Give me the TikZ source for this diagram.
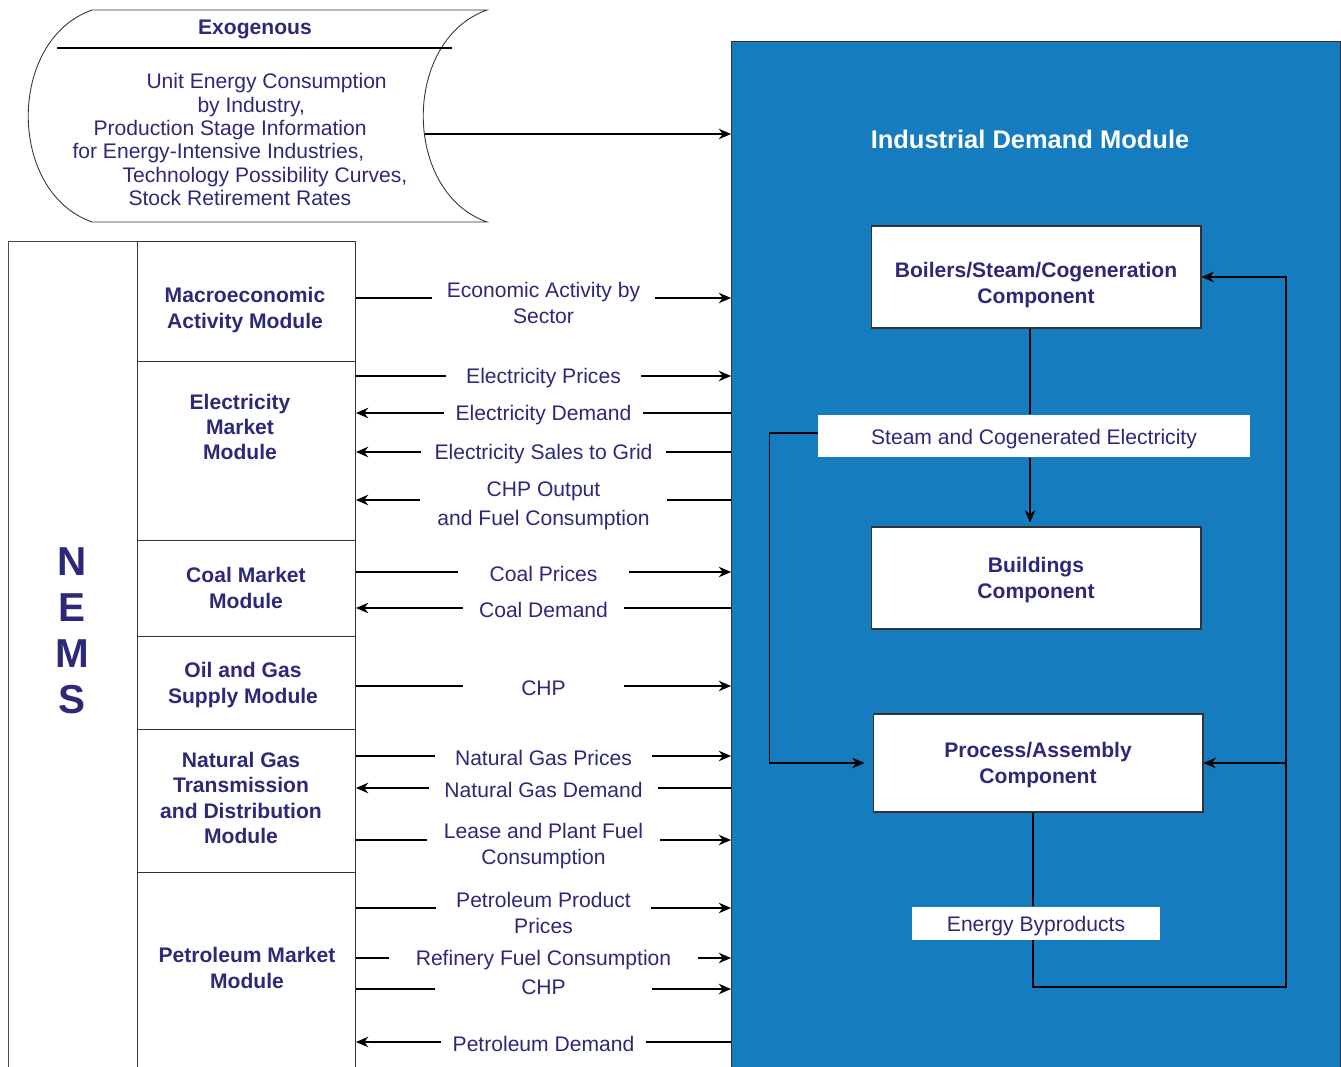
\documentclass[tikz,border=0pt]{standalone}
\usepackage{fontspec}
\setmainfont{Liberation Sans}
\usetikzlibrary{arrows.meta}
\definecolor{navy}{RGB}{44,42,120}
\definecolor{idmblue}{RGB}{22,124,192}

\begin{document}
\begin{tikzpicture}[x=0.02cm, y=-0.02cm, >={Stealth[length=7pt,width=6pt]}, line width=0.6pt,
  txt/.style={text=navy, font=\fontsize{12}{14.4}\selectfont, align=center, inner sep=0pt},
  mod/.style={txt, font=\bfseries\fontsize{12}{14.4}\selectfont},
  cell/.style={draw=black!80, anchor=north west, minimum width=4.36cm, inner sep=0pt},
  comp/.style={mod, draw=black!80, fill=white, minimum width=6.6cm, minimum height=2.04cm},
  lab/.style={txt, fill=white, yshift=-0.04cm},
  tag/.style={txt, fill=white}]

\useasboundingbox (0,0) rectangle (1341,1067);

% exogenous inputs
\draw[black!80, line width=0.5pt] (92,10) -- (487,10) .. controls (402,40) and (402,192) .. (487,222)
  -- (92,222) .. controls (7,192) and (7,40) .. cycle;
\draw (57,48) -- (452,48);
\node[mod] (exo-title) at (255,29) {Exogenous};
\node[txt, align=left, anchor=north west, font=\fontsize{12}{13.3}\selectfont] (exo-body) at (72,73)
  {\hspace*{1.48cm}Unit Energy Consumption\\
   \hspace*{2.50cm}by Industry,\\
   \hspace*{0.42cm}Production Stage Information\\
   for Energy-Intensive Industries,\\
   \hspace*{1.00cm}Technology Possibility Curves,\\
   \hspace*{1.12cm}Stock Retirement Rates};
\coordinate (exo-out) at (425,134);

% industrial demand module
\node[draw=black!80, fill=idmblue, anchor=north west, minimum width=12.18cm,
  minimum height=21.78cm, inner sep=0pt] (idm) at (731,41) {};
\node[text=white, font=\bfseries\fontsize{14.5}{17}\selectfont] (idm-title) at (1030,139)
  {Industrial Demand Module};

\node[comp] (boil) at (1036,277) {\rule{0pt}{18pt}Boilers/Steam/Cogeneration\\Component};
\node[tag, minimum width=8.64cm, minimum height=0.84cm] (steam) at (1034,436)
  {\rule{0pt}{12pt}Steam and Cogenerated Electricity};
\node[comp] (bldg) at (1036,578) {\rule{0pt}{11pt}Buildings\\Component};
\node[comp, minimum height=1.96cm] (proc) at (1038,763) {\rule{0pt}{11pt}Process/Assembly\\Component};
\node[tag, minimum width=4.96cm, minimum height=0.66cm] (byp) at (1036,923)
  {\rule{0pt}{12pt}Energy Byproducts};
\coordinate (spine) at (1030,0);
\coordinate (byline) at (1033,0);
\coordinate (loopR) at (1286,987);

\draw (spine |- boil.south) -- (spine |- steam.north);
\draw[->] (spine |- steam.south) -- ([yshift=0.08cm]spine |- bldg.north);
\draw[->] (steam.west |- 0,433) -- ++(-48,0) |- ([xshift=-0.16cm]proc.west);
\draw (byline |- proc.south) -- (byline |- byp.north);
\draw[->] (byline |- byp.south) |- (loopR) |- (boil.east);
\draw[->] (loopR |- proc.east) -- (proc.east);

% NEMS modules
\node[cell, draw=black!70, minimum width=2.58cm, minimum height=17.78cm] (nems) at (8,241) {};
\node[text=navy, font=\bfseries\fontsize{23}{26.2}\selectfont, align=center, inner sep=0pt]
  (nems-t) at (72,631) {N\\E\\M\\S};

\node[cell, minimum height=2.4cm]  (macro) at (137,241) {};
\node[cell, minimum height=3.58cm] (elec)  at (137,361) {};
\node[cell, minimum height=1.92cm] (coal)  at (137,540) {};
\node[cell, minimum height=1.86cm] (oil)   at (137,636) {};
\node[cell, minimum height=2.86cm] (ng)    at (137,729) {};
\node[cell, minimum height=5.16cm] (pet)   at (137,872) {};

\node[mod] (macro-t) at (245,310) {Macroeconomic\\Activity Module};
\node[mod] (elec-t)  at (240,427) {Electricity\\Market\\Module};
\node[mod] (coal-t)  at (246,588) {Coal Market\\Module};
\node[mod] (oil-t)   at (243,685) {Oil and Gas\\Supply Module};
\node[mod] (ng-t)    at (241,798) {Natural Gas\\Transmission\\and Distribution\\Module};
\node[mod] (pet-t)   at (247,968) {Petroleum Market\\Module};

% flows between NEMS and the module
\draw[->] (exo-out) -- (idm.west |- exo-out);

\draw[->] (macro.east |- 0,298) -- node[lab, minimum width=4.46cm, yshift=-0.06cm]{Economic Activity by\\Sector} (idm.west |- 0,298);
\draw[->] (elec.east |- 0,376) -- node[lab, minimum width=3.92cm]{Electricity Prices} (idm.west |- 0,376);
\draw[->] (idm.west |- 0,413) -- node[lab, minimum width=4.0cm]{Electricity Demand} (elec.east |- 0,413);
\draw[->] (idm.west |- 0,452) -- node[lab, minimum width=4.92cm]{Electricity Sales to Grid} (elec.east |- 0,452);
\draw[->] (idm.west |- 0,500) -- node[lab, minimum width=4.94cm, yshift=-0.08cm]{CHP Output\\[2pt]and Fuel Consumption} (elec.east |- 0,500);

\draw[->] (coal.east |- 0,572) -- node[lab, minimum width=3.42cm]{Coal Prices} (idm.west |- 0,572);
\draw[->] (idm.west |- 0,608) -- node[lab, minimum width=3.22cm]{Coal Demand} (coal.east |- 0,608);

\draw[->] (oil.east |- 0,686) -- node[lab, minimum width=3.24cm]{CHP} (idm.west |- 0,686);

\draw[->] (ng.east |- 0,756) -- node[lab, minimum width=4.36cm]{Natural Gas Prices} (idm.west |- 0,756);
\draw[->] (idm.west |- 0,788) -- node[lab, minimum width=4.58cm]{Natural Gas Demand} (ng.east |- 0,788);
\draw[->] (ng.east |- 0,840) -- node[lab, minimum width=4.66cm, yshift=-0.08cm]{Lease and Plant Fuel\\Consumption} (idm.west |- 0,840);

\draw[->] (pet.east |- 0,908) -- node[lab, minimum width=4.3cm, yshift=-0.06cm]{Petroleum Product\\Prices} (idm.west |- 0,908);
\draw[->] (pet.east |- 0,958) -- node[lab, minimum width=6.2cm]{Refinery Fuel Consumption} (idm.west |- 0,958);
\draw[->] (pet.east |- 0,989) -- node[lab, minimum width=4.36cm, yshift=0.08cm]{CHP} (idm.west |- 0,989);
\draw[->] (idm.west |- 0,1042) -- node[lab, minimum width=4.1cm]{Petroleum Demand} (pet.east |- 0,1042);

\end{tikzpicture}
\end{document}
